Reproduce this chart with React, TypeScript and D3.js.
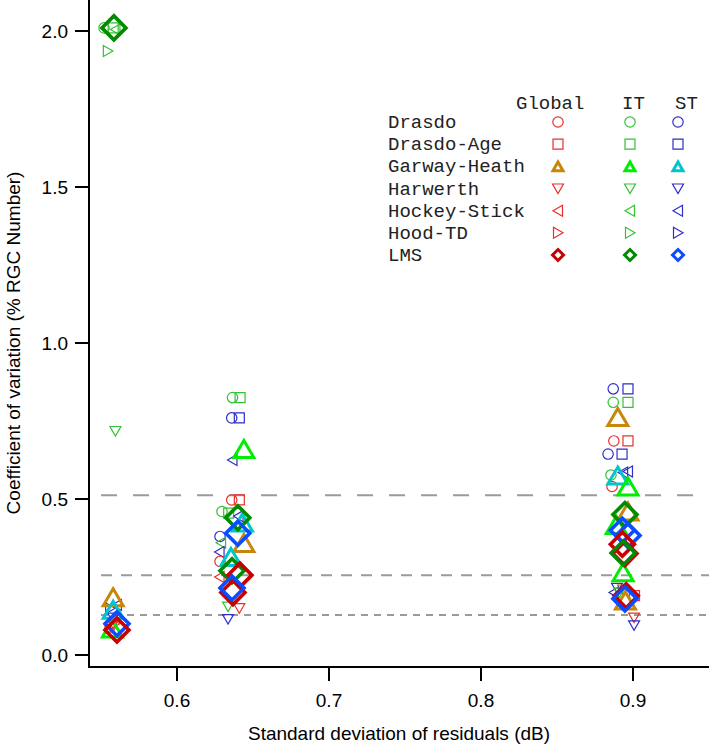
import React from "react";
import * as d3 from "d3";

const models = ["Drasdo", "Drasdo-Age", "Garway-Heath", "Harwerth", "Hockey-Stick", "Hood-TD", "LMS"];
const regions = ["Global", "IT", "ST"];
const xTicks = [0.6, 0.7, 0.8, 0.9];
const yTicks = [0.0, 0.5, 1.0, 1.5, 2.0];
const refLines = [0.512, 0.256, 0.128];

// colour per [model][region]
const colors = [
  ["#e8302a", "#33c233", "#2e2ec8"],
  ["#e8302a", "#33c233", "#2e2ec8"],
  ["#c8860a", "#00ee00", "#00c5cd"],
  ["#e8302a", "#33c233", "#2e2ec8"],
  ["#e8302a", "#33c233", "#2e2ec8"],
  ["#e8302a", "#33c233", "#2e2ec8"],
  ["#c80000", "#008b00", "#0a4cff"],
];

// [model, region, x (SD residuals), y (CV)]
const cluster1: [number, number, number, number][] = [
  [0, 0, 0.556, 0.09], [3, 0, 0.558, 0.1], [4, 0, 0.557, 0.11], [5, 0, 0.559, 0.1],
  [3, 2, 0.558, 0.12], [5, 2, 0.556, 0.15], [4, 2, 0.5605, 0.16],
  [2, 1, 0.5575, 0.085], [2, 0, 0.558, 0.185], [2, 2, 0.558, 0.145],
  [6, 2, 0.5605, 0.1], [6, 0, 0.5605, 0.08],
  [3, 1, 0.5595, 0.718], [5, 1, 0.5545, 1.936], [0, 1, 0.552, 2.01], [1, 1, 0.558, 2.01],
  [4, 1, 0.5595, 2.005], [6, 1, 0.5585, 2.01],
];
const cluster2: [number, number, number, number][] = [
  [0, 1, 0.6365, 0.825], [1, 1, 0.6415, 0.825],
  [0, 2, 0.636, 0.76], [1, 2, 0.641, 0.76],
  [4, 2, 0.6365, 0.625], [0, 0, 0.636, 0.497], [1, 0, 0.641, 0.497],
  [0, 1, 0.6296, 0.46], [1, 1, 0.634, 0.455], [4, 2, 0.6405, 0.445],
  [0, 2, 0.6283, 0.38], [4, 1, 0.629, 0.36], [4, 2, 0.628, 0.33], [0, 0, 0.6283, 0.3],
  [4, 0, 0.628, 0.25], [3, 1, 0.6336, 0.155], [3, 0, 0.641, 0.15], [3, 2, 0.6336, 0.115],
  [2, 1, 0.644, 0.66], [2, 2, 0.643, 0.425], [2, 0, 0.644, 0.359], [2, 2, 0.6355, 0.314],
  [6, 1, 0.64, 0.44], [6, 2, 0.64, 0.39], [6, 1, 0.6362, 0.27], [6, 0, 0.6414, 0.256],
  [6, 0, 0.6368, 0.2], [6, 2, 0.6362, 0.215],
];
const cluster3: [number, number, number, number][] = [
  [0, 2, 0.887, 0.853], [1, 2, 0.8967, 0.853], [0, 1, 0.887, 0.81], [1, 1, 0.8967, 0.81],
  [0, 0, 0.8874, 0.686], [1, 0, 0.8967, 0.686], [0, 2, 0.8836, 0.644], [1, 2, 0.8928, 0.644],
  [0, 1, 0.8855, 0.577], [4, 2, 0.8935, 0.585], [4, 2, 0.8967, 0.588], [0, 0, 0.8862, 0.54],
  [3, 2, 0.8895, 0.215], [3, 0, 0.8935, 0.21], [4, 2, 0.8875, 0.2], [3, 1, 0.891, 0.2],
  [3, 0, 0.9007, 0.12], [3, 2, 0.9007, 0.095], [1, 0, 0.901, 0.19],
  [2, 0, 0.89, 0.763], [2, 2, 0.89, 0.575], [2, 1, 0.8967, 0.54], [2, 0, 0.8967, 0.46],
  [2, 1, 0.889, 0.417], [2, 1, 0.8935, 0.265], [2, 0, 0.895, 0.175],
  [6, 1, 0.8947, 0.45], [6, 2, 0.893, 0.4], [6, 2, 0.8967, 0.383], [6, 0, 0.893, 0.355],
  [6, 0, 0.8947, 0.325], [6, 1, 0.8935, 0.327], [6, 0, 0.8955, 0.19], [6, 2, 0.8947, 0.18],
];

const W = 709;
const H = 744;

function shapePath(model: number, big: boolean): string {
  switch (model) {
    case 0: {
      const r = 5.2;
      return `M${-r},0A${r},${r} 0 1,0 ${r},0A${r},${r} 0 1,0 ${-r},0Z`;
    }
    case 1: {
      const s = 5;
      return `M${-s},${-s}H${s}V${s}H${-s}Z`;
    }
    case 2: {
      const w = big ? 10 : 5;
      const h = big ? 8.5 : 4.3;
      return `M0,${-h}L${w},${h}L${-w},${h}Z`;
    }
    case 3: {
      return `M-5.5,-4.5L5.5,-4.5L0,5Z`;
    }
    case 4: {
      return `M4.5,-5.5L4.5,5.5L-5,0Z`;
    }
    case 5: {
      return `M-4.5,-5.5L-4.5,5.5L5,0Z`;
    }
    default: {
      const d = big ? 12 : 5.5;
      return `M0,${-d}L${d},0L0,${d}L${-d},0Z`;
    }
  }
}

function strokeW(model: number, big: boolean): number {
  if (model === 2) return 3;
  if (model === 6) return big ? 3.6 : 3;
  return 1.2;
}

export default function App() {
  const x = d3.scaleLinear().domain([0.6, 0.9]).range([177, 633]);
  const y = d3.scaleLinear().domain([0, 2]).range([655, 31]);
  const legendY = d3.scaleLinear().domain([0, 6]).range([122, 255]);
  const colX = [558, 630, 678];

  const allPts = [...cluster1, ...cluster2, ...cluster3];
  const small = allPts.filter((p) => p[0] !== 2 && p[0] !== 6);
  const bigs = allPts.filter((p) => p[0] === 2 || p[0] === 6);

  const axisFont = "'Liberation Sans', Arial, Helvetica, sans-serif";
  const monoFont = "'Liberation Mono', 'Courier New', monospace";

  return (
    <div style={{ position: "fixed", left: 0, top: 0 }}>
      <svg width={W} height={H} style={{ display: "block", background: "#fff" }}>
        {refLines.map((v, i) => (
          <line
            key={i}
            x1={x(0.55)}
            x2={W}
            y1={y(v)}
            y2={y(v)}
            stroke="#9a9a9a"
            strokeWidth={2}
            strokeDasharray={i === 0 ? "16,16" : i === 1 ? "11,9" : "7,6"}
          />
        ))}
        <line x1={89} x2={89} y1={0} y2={667} stroke="#000" strokeWidth={2} />
        <line x1={88} x2={W} y1={667} y2={667} stroke="#000" strokeWidth={2} />
        {yTicks.map((t) => (
          <g key={t}>
            <line x1={75} x2={89} y1={y(t)} y2={y(t)} stroke="#000" strokeWidth={2} />
            <text x={68} y={y(t)} dy="0.36em" textAnchor="end" fontFamily={axisFont} fontSize={19}>
              {t.toFixed(1)}
            </text>
          </g>
        ))}
        {xTicks.map((t) => (
          <g key={t}>
            <line x1={x(t)} x2={x(t)} y1={667} y2={681} stroke="#000" strokeWidth={2} />
            <text x={x(t)} y={707} textAnchor="middle" fontFamily={axisFont} fontSize={19}>
              {t.toFixed(1)}
            </text>
          </g>
        ))}
        <text x={399} y={740} textAnchor="middle" fontFamily={axisFont} fontSize={19}>
          Standard deviation of residuals (dB)
        </text>
        <text
          transform={`translate(20,343) rotate(-90)`}
          textAnchor="middle"
          fontFamily={axisFont}
          fontSize={19}
        >
          Coefficient of variation (% RGC Number)
        </text>

        {small.map((p, i) => (
          <path
            key={"s" + i}
            d={shapePath(p[0], true)}
            transform={`translate(${x(p[2])},${y(p[3])})`}
            fill="none"
            stroke={colors[p[0]][p[1]]}
            strokeWidth={strokeW(p[0], true)}
          />
        ))}
        {bigs.map((p, i) => (
          <path
            key={"b" + i}
            d={shapePath(p[0], true)}
            transform={`translate(${x(p[2])},${y(p[3])})`}
            fill="none"
            stroke={colors[p[0]][p[1]]}
            strokeWidth={strokeW(p[0], true)}
            strokeLinejoin="miter"
          />
        ))}

        <text x={516} y={109} fontFamily={monoFont} fontSize={19} fill="#222">Global</text>
        <text x={622} y={109} fontFamily={monoFont} fontSize={19} fill="#222">IT</text>
        <text x={675} y={109} fontFamily={monoFont} fontSize={19} fill="#222">ST</text>
        {models.map((m, i) => (
          <g key={m}>
            <text x={388} y={legendY(i)} dy="0.32em" fontFamily={monoFont} fontSize={19} fill="#222">
              {m}
            </text>
            {regions.map((r, j) => (
              <path
                key={r}
                d={shapePath(i, false)}
                transform={`translate(${colX[j]},${legendY(i)})`}
                fill="none"
                stroke={colors[i][j]}
                strokeWidth={strokeW(i, false)}
              />
            ))}
          </g>
        ))}
      </svg>
    </div>
  );
}
